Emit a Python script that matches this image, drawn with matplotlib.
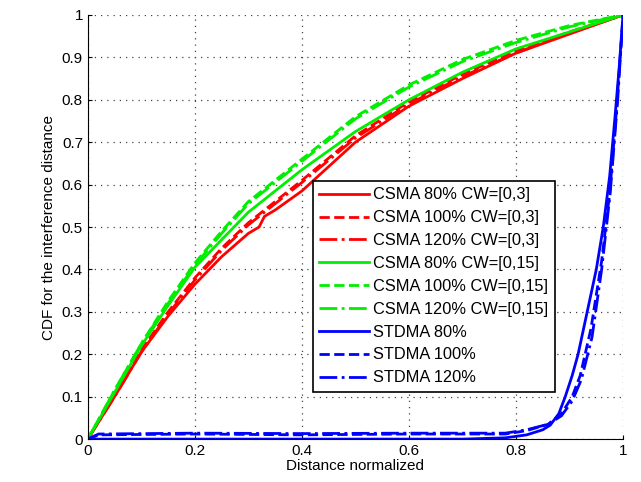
import matplotlib.pyplot as plt

plt.rcParams['font.family'] = ['Liberation Sans', 'DejaVu Sans']

# CSMA curves, sampled on a common x grid
x_csma = [0, 0.05, 0.1, 0.15, 0.2, 0.25, 0.3, 0.32, 0.33, 0.35, 0.4, 0.5, 0.6, 0.7, 0.8, 0.9, 1.0]
csma80_cw3 = [0, 0.10, 0.205, 0.29, 0.365, 0.43, 0.485, 0.50, 0.525, 0.54, 0.585, 0.70, 0.785, 0.85, 0.91, 0.955, 1.0]
csma100_cw3 = [0, 0.105, 0.21, 0.30, 0.38, 0.45, 0.51, 0.53, 0.54, 0.56, 0.61, 0.715, 0.795, 0.86, 0.915, 0.96, 1.0]
csma120_cw3 = [0, 0.10, 0.205, 0.295, 0.375, 0.445, 0.505, 0.525, 0.535, 0.555, 0.605, 0.71, 0.79, 0.855, 0.91, 0.958, 1.0]
csma80_cw15 = [0, 0.11, 0.22, 0.315, 0.405, 0.47, 0.535, 0.555, 0.565, 0.585, 0.635, 0.725, 0.80, 0.865, 0.92, 0.96, 1.0]
csma100_cw15 = [0, 0.115, 0.225, 0.325, 0.415, 0.49, 0.56, 0.58, 0.59, 0.61, 0.66, 0.76, 0.835, 0.895, 0.94, 0.975, 1.0]
csma120_cw15 = [0, 0.115, 0.225, 0.32, 0.41, 0.485, 0.555, 0.575, 0.585, 0.605, 0.655, 0.755, 0.83, 0.89, 0.935, 0.972, 1.0]

# STDMA curves
x_stdma80 = [0, 0.7, 0.78, 0.82, 0.85, 0.864, 0.88, 0.892, 0.905, 0.916, 0.933, 0.95, 0.963, 0.975, 0.985, 0.993, 1.0]
stdma80 = [0, 0, 0.003, 0.01, 0.022, 0.033, 0.06, 0.10, 0.15, 0.20, 0.30, 0.40, 0.50, 0.62, 0.76, 0.88, 1.0]
x_stdma100 = [0, 0.02, 0.2, 0.4, 0.6, 0.78, 0.82, 0.86, 0.885, 0.905, 0.92, 0.94, 0.96, 0.975, 0.988, 1.0]
stdma100 = [0, 0.01, 0.012, 0.01, 0.012, 0.012, 0.02, 0.035, 0.06, 0.10, 0.15, 0.26, 0.42, 0.58, 0.78, 1.0]
x_stdma120 = [0, 0.02, 0.2, 0.4, 0.6, 0.78, 0.82, 0.86, 0.885, 0.905, 0.922, 0.942, 0.96, 0.976, 0.99, 1.0]
stdma120 = [0, 0.012, 0.014, 0.013, 0.014, 0.014, 0.022, 0.035, 0.055, 0.09, 0.14, 0.24, 0.40, 0.58, 0.80, 1.0]

xticks = [0, 0.2, 0.4, 0.6, 0.8, 1]
yticks = [0, 0.1, 0.2, 0.3, 0.4, 0.5, 0.6, 0.7, 0.8, 0.9, 1]

fig = plt.figure(figsize=(6.41, 4.82), dpi=100)
ax = fig.add_axes([0.137, 0.089, 0.835, 0.88])

lw = 2
ax.plot(x_csma, csma80_cw3, color='#ff0000', ls='-', lw=lw, label='CSMA 80% CW=[0,3]')
ax.plot(x_csma, csma100_cw3, color='#ff0000', ls='--', lw=lw, label='CSMA 100% CW=[0,3]')
ax.plot(x_csma, csma120_cw3, color='#ff0000', ls='-.', lw=lw, label='CSMA 120% CW=[0,3]')
ax.plot(x_csma, csma80_cw15, color='#00ee00', ls='-', lw=lw, label='CSMA 80% CW=[0,15]')
ax.plot(x_csma, csma100_cw15, color='#00ee00', ls='--', lw=lw, label='CSMA 100% CW=[0,15]')
ax.plot(x_csma, csma120_cw15, color='#00ee00', ls='-.', lw=lw, label='CSMA 120% CW=[0,15]')
ax.plot(x_stdma80, stdma80, color='#0000ff', ls='-', lw=lw, label='STDMA 80%')
ax.plot(x_stdma100, stdma100, color='#0000ff', ls='--', lw=lw, label='STDMA 100%')
ax.plot(x_stdma120, stdma120, color='#0000ff', ls='-.', lw=lw, label='STDMA 120%')

ax.set_xlim(0, 1)
ax.set_ylim(0, 1)
ax.set_xticks(xticks)
ax.set_xticklabels(['0', '0.2', '0.4', '0.6', '0.8', '1'])
ax.set_yticks(yticks)
ax.set_yticklabels(['0', '0.1', '0.2', '0.3', '0.4', '0.5', '0.6', '0.7', '0.8', '0.9', '1'])
ax.tick_params(direction='in', labelsize=11, length=3)
ax.grid(True, ls=(0, (1, 4)), color='#444444', lw=0.9)
ax.spines['top'].set_visible(False)
ax.spines['right'].set_visible(False)

ax.set_xlabel('Distance normalized', fontsize=11, labelpad=1)
ax.set_ylabel('CDF for the interference distance', fontsize=11)

leg = ax.legend(loc='lower left', bbox_to_anchor=(0.405, 0.092), fontsize=11.8,
                handlelength=3.0, labelspacing=0.48, fancybox=False,
                edgecolor='black', framealpha=1, borderpad=0.4, handletextpad=0.3)
leg.get_frame().set_linewidth(1.2)

fig.savefig('out.png', dpi=100)
